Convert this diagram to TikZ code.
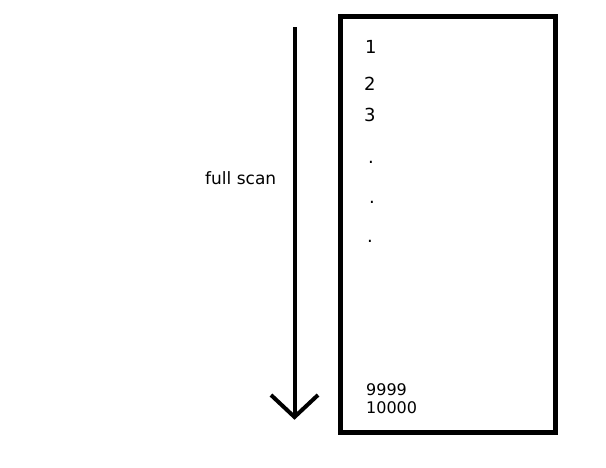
\documentclass[tikz,border=0pt]{standalone}
\usepackage{fontspec}
\setmainfont{DejaVu Sans}
\tikzset{
  numtxt/.style={anchor=base west,inner sep=0pt,font=\fontsize{18}{18}\selectfont},
  smalltxt/.style={anchor=base west,inner sep=0pt,font=\fontsize{16}{16}\selectfont},
  labeltxt/.style={anchor=base west,inner sep=0pt,font=\fontsize{17}{17}\selectfont},
  thickline/.style={line width=4pt,black},
  boxline/.style={line width=5pt,black}
}
\begin{document}
\begin{tikzpicture}[x=1pt,y=-1pt]
\useasboundingbox[fill=white] (0,0) rectangle (606,467);
% table box
\draw[boxline] (340.5,16.5) rectangle (555,432);
% arrow
\coordinate (top) at (294.5,27);
\coordinate (tip) at (294.5,417);
\coordinate (la) at (271,395);
\coordinate (ra) at (318,395);
\draw[thickline] (top) -- (tip);
\draw[thickline,line join=miter] (la) -- (tip) -- (ra);
% labels
\node[labeltxt] (fs) at (205,184) {full scan};
\node[numtxt] (n1) at (365,53) {1};
\node[numtxt] (n2) at (364,90) {2};
\node[numtxt] (n3) at (364,121) {3};
\node[numtxt] (d1) at (368,163) {.};
\node[numtxt] (d2) at (369,203) {.};
\node[numtxt] (d3) at (367,242) {.};
\node[smalltxt] (n9999) at (366,395) {9999};
\node[smalltxt] (n10000) at (366,413) {10000};
\end{tikzpicture}
\end{document}
